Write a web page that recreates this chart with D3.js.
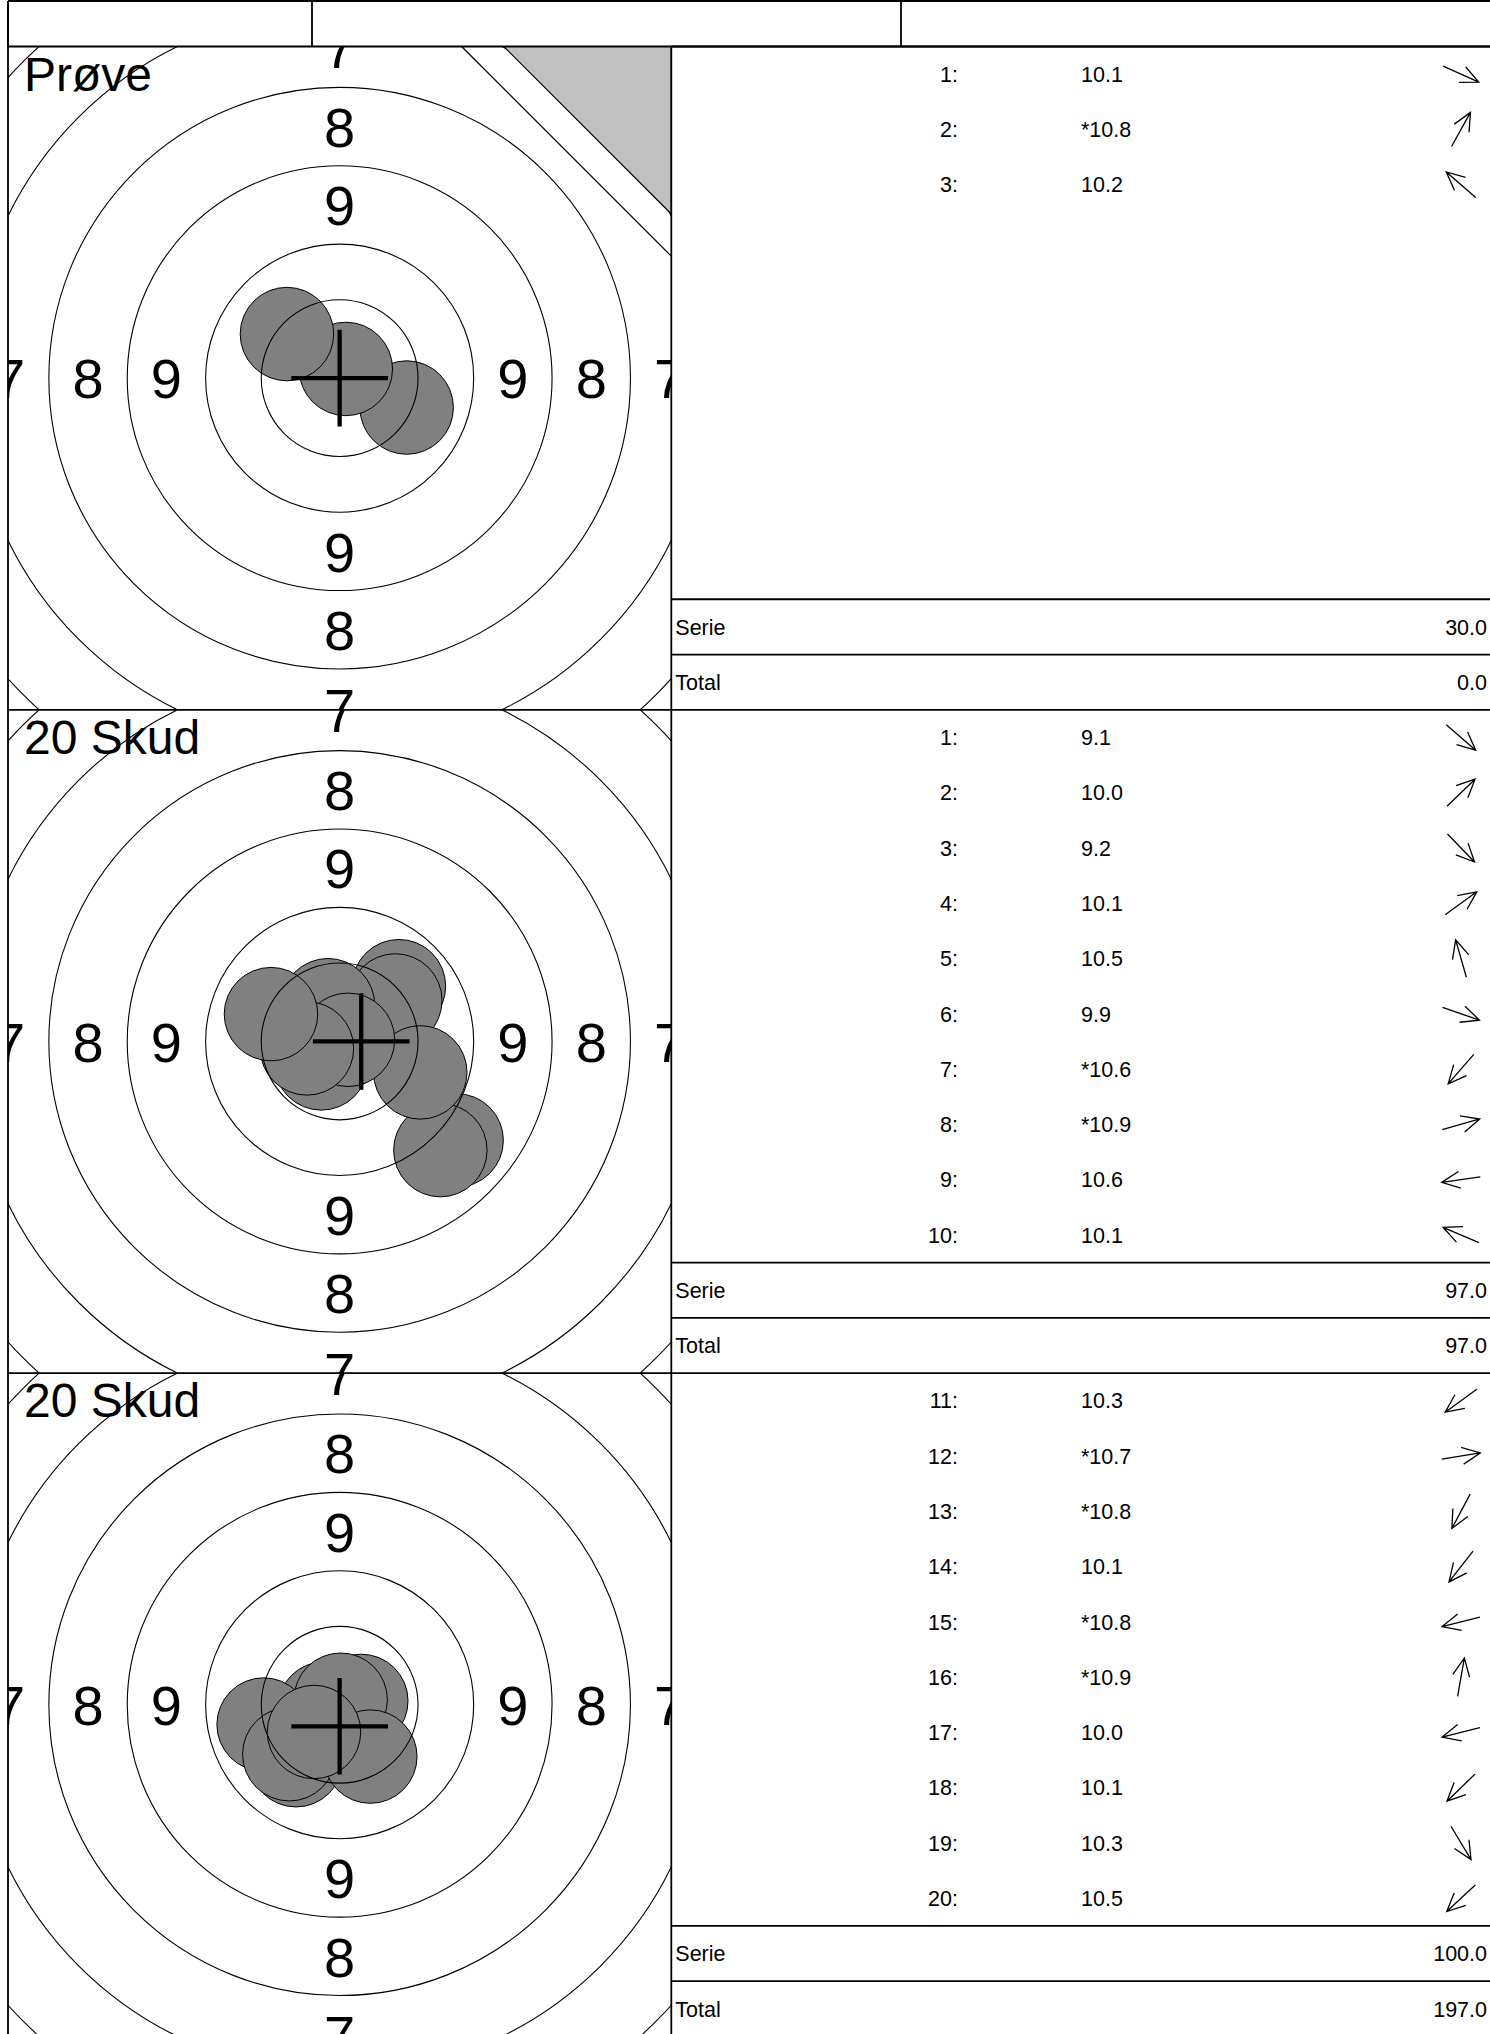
<!DOCTYPE html>
<html>
<head>
<meta charset="utf-8">
<script src="https://cdn.jsdelivr.net/npm/d3@7"></script>
<style>
  body { margin: 0; background: #fff; }
  svg { display: block; }
  text { font-family: "Liberation Sans", Arial, sans-serif; fill: #000; }
</style>
</head>
<body>
<svg id="sheet" width="1490" height="2034"></svg>
<script>
// target rings, radius in mm (inner ten, 10, 9, 8, 7, 6)
var ringRadius = [8.0, 13.68, 21.68, 29.68, 37.68, 45.68];
var ringLabels = ["9", "8", "7"];
var shotRadius = 4.77;

// one entry per target card
var panelTitles = ["Prøve", "20 Skud", "20 Skud"];
var shotNumbers = [
  [1, 2, 3],
  [1, 2, 3, 4, 5, 6, 7, 8, 9, 10],
  [11, 12, 13, 14, 15, 16, 17, 18, 19, 20]
];
var shotScores = [
  ["10.1", "*10.8", "10.2"],
  ["9.1", "10.0", "9.2", "10.1", "10.5", "9.9", "*10.6", "*10.9", "10.6", "10.1"],
  ["10.3", "*10.7", "*10.8", "10.1", "*10.8", "*10.9", "10.0", "10.1", "10.3", "10.5"]
];
// arrow direction in degrees (0 = right, 90 = down)
var shotDir = [
  [24, -61, 221],
  [41, -44, 46, -36, -106, 19, 131, -16, 172, 203],
  [144, -9, 118, 128, 166, -80, 166, 136, 59, 137]
];
// hit position in mm from centre (x right, y down)
var shotX = [
  [6.84, 0.63, -5.38],
  [11.94, 6.05, 10.28, 5.68, -1.19, 8.23, -1.87, 0.85, -3.34, -7.01],
  [-4.52, 2.21, -0.74, -4.45, -1.55, 0.10, -7.76, -5.14, 3.13, -2.62]
];
var shotY = [
  [3.00, -0.94, -4.50],
  [10.10, -5.64, 11.09, -4.18, -3.70, 3.16, 2.24, -0.17, 0.71, -2.79],
  [3.31, -0.39, 1.42, 5.66, 0.38, -0.51, 2.02, 5.05, 5.29, 2.78]
];
var crossX = [0, 2.2, 0];
var crossY = [0, 0, 2.2];
var serieValues = ["30.0", "97.0", "100.0"];
var totalValues = ["0.0", "97.0", "197.0"];

// layout
var W = 1490, H = 2034;
var left = 8, headTop = 1, top0 = 46.5, panelSize = 663.3;
var headerCols = [8, 312, 901, 1492];
var targetSpan = 67.7;          // mm shown across one card
var crossArm = 4.93;            // mm
var sightLines = [46.3, 50.6];  // x - y (mm) of the corner lines on the sighter card
var rowsPerPanel = 12;

var svg = d3.select("#sheet");
var defs = svg.append("defs");

// header row
svg.append("line").attr("x1", left).attr("x2", W + 2).attr("y1", headTop).attr("y2", headTop)
  .attr("stroke", "#000").attr("stroke-width", 1.8);
svg.selectAll(".hdiv").data(headerCols.slice(0, 3)).join("line")
  .attr("x1", d => d).attr("x2", d => d).attr("y1", headTop).attr("y2", top0)
  .attr("stroke", "#000").attr("stroke-width", 1.8);

panelTitles.forEach(function (title, p) {
  var y0 = top0 + p * panelSize;
  var x = d3.scaleLinear().domain([-targetSpan / 2, targetSpan / 2]).range([left, left + panelSize]);
  var y = d3.scaleLinear().domain([-targetSpan / 2, targetSpan / 2]).range([y0, y0 + panelSize]);
  var k = x(1) - x(0);
  var cx = x(0), cy = y(0);

  defs.append("clipPath").attr("id", "clip" + p).append("rect")
    .attr("x", left).attr("y", y0).attr("width", panelSize).attr("height", panelSize);
  var g = svg.append("g").attr("clip-path", "url(#clip" + p + ")");

  // shots
  var idx = d3.range(shotNumbers[p].length);
  g.selectAll(".shot").data(idx).join("circle")
    .attr("cx", i => x(shotX[p][i])).attr("cy", i => y(shotY[p][i]))
    .attr("r", shotRadius * k)
    .attr("fill", "#808080").attr("stroke", "#000").attr("stroke-width", 1);

  // rings
  g.selectAll(".ring").data(ringRadius).join("circle")
    .attr("cx", cx).attr("cy", cy).attr("r", d => d * k)
    .attr("fill", "none").attr("stroke", "#000").attr("stroke-width", 1.1);

  // ring numbers
  var labelData = [];
  ringLabels.forEach(function (lab, i) {
    var dist = (ringRadius[i + 1] + ringRadius[i + 2]) / 2;
    [[0, -1], [0, 1], [-1, 0], [1, 0]].forEach(function (v) {
      labelData.push({ t: lab, x: v[0] * dist, y: v[1] * dist });
    });
  });
  g.selectAll(".lab").data(labelData).join("text")
    .attr("x", d => x(d.x)).attr("y", d => y(d.y)).attr("dy", "0.36em")
    .attr("text-anchor", "middle").attr("font-size", 56).text(d => d.t);

  // sighter marker in top-right corner
  if (p === 0) {
    var h = targetSpan / 2;
    var s0 = sightLines[0], s1 = sightLines[1];
    g.append("path")
      .attr("d", d3.line()([[x(s1 - h), y(-h)], [x(h), y(-h)], [x(h), y(h - s1)]]) + "Z")
      .attr("fill", "#c0c0c0").attr("stroke", "#000").attr("stroke-width", 1.2);
    g.append("line")
      .attr("x1", x(s0 - h)).attr("y1", y(-h)).attr("x2", x(h)).attr("y2", y(h - s0))
      .attr("stroke", "#000").attr("stroke-width", 1.2);
  }

  // correction cross
  var mx = crossX[p], my = crossY[p];
  g.append("path")
    .attr("d", "M" + x(mx - crossArm) + "," + y(my) + "H" + x(mx + crossArm) +
               "M" + x(mx) + "," + y(my - crossArm) + "V" + y(my + crossArm))
    .attr("stroke", "#000").attr("stroke-width", 4.3).attr("fill", "none");

  // card title
  g.append("text").attr("x", left + 16).attr("y", y0 + 44)
    .attr("font-size", 48).text(title);

  // table
  var row = d3.scaleLinear().domain([0, rowsPerPanel]).range([y0, y0 + panelSize]);
  var tx0 = left + panelSize;
  var t = svg.append("g");
  t.selectAll(".rl").data([0, rowsPerPanel - 2, rowsPerPanel - 1]).join("line")
    .attr("x1", tx0).attr("x2", W + 2).attr("y1", d => row(d)).attr("y2", d => row(d))
    .attr("stroke", "#000").attr("stroke-width", 1.8);

  t.selectAll(".num").data(idx).join("text")
    .attr("x", 958).attr("y", i => row(i + 0.5)).attr("dy", "0.36em")
    .attr("text-anchor", "end").attr("font-size", 21.5).text(i => shotNumbers[p][i] + ":");
  t.selectAll(".val").data(idx).join("text")
    .attr("x", 1081).attr("y", i => row(i + 0.5)).attr("dy", "0.36em")
    .attr("font-size", 21.5).text(i => shotScores[p][i]);

  // direction arrows
  var L = 39, head = 20, spread = 25 * Math.PI / 180;
  t.selectAll(".arr").data(idx).join("path")
    .attr("d", function (i) {
      var a = shotDir[p][i] * Math.PI / 180;
      var ax = 1461, ay = row(i + 0.5);
      var tipx = ax + Math.cos(a) * L / 2, tipy = ay + Math.sin(a) * L / 2;
      var tailx = ax - Math.cos(a) * L / 2, taily = ay - Math.sin(a) * L / 2;
      var b1 = a + Math.PI - spread, b2 = a + Math.PI + spread;
      return "M" + tailx + "," + taily + "L" + tipx + "," + tipy +
        "M" + (tipx + Math.cos(b1) * head) + "," + (tipy + Math.sin(b1) * head) +
        "L" + tipx + "," + tipy +
        "L" + (tipx + Math.cos(b2) * head) + "," + (tipy + Math.sin(b2) * head);
    })
    .attr("fill", "none").attr("stroke", "#000").attr("stroke-width", 1.3);

  var sums = [["Serie", serieValues[p]], ["Total", totalValues[p]]];
  sums.forEach(function (s, j) {
    var ry = row(rowsPerPanel - 2 + j + 0.5);
    t.append("text").attr("x", tx0 + 4).attr("y", ry).attr("dy", "0.36em")
      .attr("font-size", 21.5).text(s[0]);
    t.append("text").attr("x", W - 3).attr("y", ry).attr("dy", "0.36em")
      .attr("text-anchor", "end").attr("font-size", 21.5).text(s[1]);
  });
});

// card frames
svg.append("line").attr("x1", left).attr("x2", W + 2).attr("y1", top0).attr("y2", top0)
  .attr("stroke", "#000").attr("stroke-width", 1.8);
svg.append("line").attr("x1", left).attr("x2", left).attr("y1", headTop).attr("y2", H + 2)
  .attr("stroke", "#000").attr("stroke-width", 1.8);
svg.append("line").attr("x1", left + panelSize).attr("x2", left + panelSize).attr("y1", top0).attr("y2", H + 2)
  .attr("stroke", "#000").attr("stroke-width", 1.8);
svg.selectAll(".pdiv").data([1, 2]).join("line")
  .attr("x1", left).attr("x2", left + panelSize)
  .attr("y1", d => top0 + d * panelSize).attr("y2", d => top0 + d * panelSize)
  .attr("stroke", "#000").attr("stroke-width", 1.8);
</script>
</body>
</html>
